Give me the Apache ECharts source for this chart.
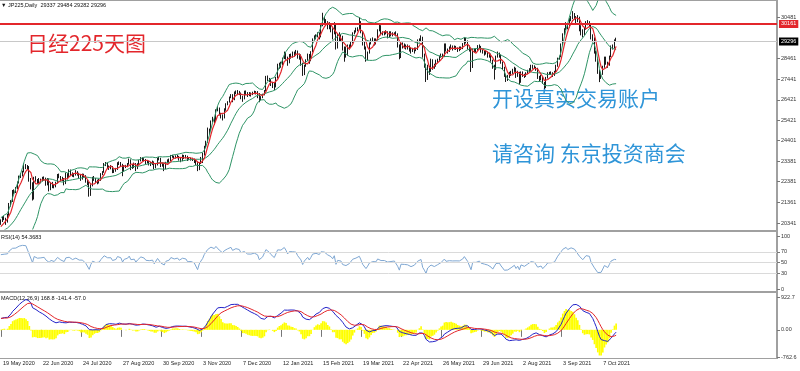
<!DOCTYPE html>
<html><head><meta charset="utf-8">
<script src="https://cdn.jsdelivr.net/npm/echarts@6/dist/echarts.min.js"></script>
<style>html,body{margin:0;padding:0;background:#fff}#c{width:800px;height:371px}</style>
</head><body><div id="c"></div>
<script>
// ---- data (JP225 daily, 19 May 2020 .. 20 Oct 2021, weekday bars) ----
const warmupCloses = [18065,17818,17820,18576,18950,19353,19345,19400,19043,19638,19550,19290,19897,
19669,19280,19137,19429,19262,19783,19771,19800,20193,19619,19500,19600,19700,19674,20179,
20390,20366,20267,19914,20037,20133];
const opens = [20300,20433,20595,20552,
20388,20741,21271,21419,21916, 21877,22062,22325,22613,22695, 22863,23178,23091,23124,22473,
22305,21530,22582,22455,22355, 22479,22437,22549,22534,22260, 22512,21995,22288,22122,22146,
22307,22714,22614,22438,22529, 22291,22785,22587,22945,22770, 22696,22717,22884,22751,22700,
22520,22715,22657,22397,22339, 21710,22195,22573,22514,22418, 22329,22460,22750,22843,23249,
23289,23096,23051,23110,22880, 22920,22985,23296,23290,23208, 22882,23139,23138,23247,23465,
23205,23089,23274,23032,23235, 23406,23559,23454,23475,23319, 23360,23300,23250,23346,23087,
23204,23511,23539,23185,23200, 23029,23312,23433,23422,23647, 23619,23558,23601,23626,23507,
23410,23671,23567,23639,23474, 23516,23494,23485,23418,23331, 22977,23295,23500,23695,24105,
24325,24839,24905,25349,25520, 25385,25906,26014,25728,25634, 25527,25900,26165,26296,26537,
26644,26433,26787,26800,26809, 26751,26547,26467,26817,26756, 26652,26732,26687,26757,26806,
26763,26714,26436,26524, 26668,26854,27568,27444,
27400,27258,27158,27056,27490, 28139,28100,28164,28456,28698, 28519,28242,28633,28523,28756,
28631,28822,28546,28635,28197, 27663,28091,28362,28646,28341, 28779,29388,29505,29562,29700,
29520,30084,30467,30292,30236, 30017,30156,29900,29671,30168, 28966,29663,29408,29559,28930,
28864,28743,29027,29036,29211, 29717,29766,29921,29914,30216, 29792,29174,28995,28405,28729,
29176,29384,29432,29178,29388, 29854,30089,29696,29730,29708, 29768,29538,29751,29620,29642,
29683,29685,29100,28508,29188, 29020,29126,28991,29053,28900, 28812,28900,28950,28900,29331,
29357,29518,28608,28147,27448, 28084,27824,28406,28044,28098, 28317,28364,28553,28642,28549,
29149,28860,28814,28946,29058, 28941,29019,28963,28860,28958, 28948,29161,29441,29291,29018,
28964,28010,28884,28874,28875, 29066,29048,28812,28791,28707, 28783,28598,28643,28366,28118,
27940,28569,28718,28608,28279, 28003,27652,27388,27548,27700, 27750,27833,27970,27581,27782,
27283,27781,27641,27584,27728, 27820,27900,28070,28070,28015, 27977,27523,27424,27585,27281,
27013,27494,27732,27724,27742, 27641,27789,28089,28451,28543, 29128,29659,29916,30181,30008,
30381,30447,30670,30511,30323, 30500,30000,29839,29639,29900, 30248,30240,30183,29544,29452,
28771,28444,27822,27528,27678, 28048,28498,28230,28140,28550, 29068,29025,29337];
const highs = [20520,20650,20680,20600,
20790,21330,21470,21970,22000, 22120,22390,22680,22800,22920, 23280,23250,23200,23150,22560,
22350,22620,22650,22510,22560, 22530,22620,22640,22580,22560, 22540,22350,22370,22250,22380,
22760,22780,22660,22620,22560, 22820,22800,22990,22980,22840, 22800,22950,22900,22820,22740,
22780,22770,22700,22460,22380, 22250,22620,22660,22560,22480, 22520,22800,22900,23300,23350,
23320,23180,23200,23150,22990, 23060,23340,23380,23350,23260, 23200,23210,23300,23520,23480,
23250,23320,23300,23290,23450, 23590,23580,23540,23500,23420, 23400,23360,23420,23380,23260,
23560,23600,23560,23320,23280, 23360,23480,23520,23700,23700, 23660,23680,23700,23650,23560,
23720,23700,23700,23660,23580, 23570,23560,23520,23450,23380, 23340,23600,23800,24150,24400,
25050,25000,25400,25580,25550, 25950,26100,26040,25780,25700, 26000,26250,26350,26580,26700,
26700,26830,26880,26900,26860, 26780,26620,26870,26880,26800, 26800,26780,26820,26870,26850,
26850,26750,26600,26720, 26900,27600,27620,27500,
27450,27300,27250,27550,28200, 28250,28300,28500,28800,28750, 28550,28680,28700,28800,28800,
28880,28850,28700,28660,28250, 28150,28420,28700,28680,28820, 29450,29600,29650,29750,29750,
30150,30714,30500,30400,30300, 30250,30200,29950,30250,30200, 29700,29750,29650,29580,29050,
29050,29150,29150,29300,29750, 29850,29980,30000,30485,30300, 29800,29300,29050,28800,29250,
29450,29500,29450,29450,29900, 30200,30100,29800,29800,29850, 29800,29800,29800,29750,29750,
29800,29700,29150,29250,29250, 29200,29150,29150,29100,29000, 28980,29000,29000,29400,29450,
29600,29530,28700,28200,28150, 28100,28450,28420,28200,28400, 28450,28600,28700,28700,29200,
29200,28950,29050,29150,29100, 29100,29080,29000,29050,29050, 29220,29500,29480,29350,29100,
28980,28950,28950,28950,29120, 29150,29080,28900,28850,28850, 28800,28750,28700,28400,28150,
28600,28800,28750,28650,28300, 28050,27700,27650,27800,27850, 27950,28050,28000,27850,27800,
27820,27820,27700,27780,27900, 27980,28150,28150,28120,28050, 28000,27600,27650,27600,27300,
27550,27780,27800,27820,27780, 27850,28150,28500,28600,29200, 29700,29950,30250,30200,30450,
30550,30795,30700,30550,30600, 30520,30100,29900,30000,30300, 30350,30300,30200,29650,29500,
28850,28500,27900,27800,28100, 28550,28550,28300,28600,29100, 29150,29400,29484];
const lows = [20250,20390,20480,20250,
20360,20700,21150,21380,21760, 21820,22010,22290,22560,22640, 22840,23000,22990,22380,22000,
21450,21500,22380,22260,22300, 22300,22390,22440,22180,22200, 21900,21960,22060,22050,22100,
22290,22550,22390,22400,22200, 22260,22490,22560,22700,22620, 22600,22680,22680,22550,22420,
22480,22580,22330,22200,21640, 21680,22150,22420,22330,22250, 22290,22420,22700,22820,23150,
23030,22960,22990,22800,22810, 22870,22960,23200,23140,22650, 22860,23050,23100,23220,22950,
23010,23050,22900,23000,23200, 23380,23400,23390,23250,23280, 23180,23150,23200,23000,23040,
23180,23430,23100,23120,22900, 23000,23280,23300,23400,23560, 23500,23520,23540,23420,23340,
23390,23500,23530,23400,23440, 23420,23400,23300,23200,22900, 22950,23250,23300,23670,24050,
24300,24700,24880,25300,25180, 25360,25850,25650,25500,25400, 25500,25880,26150,26280,26500,
26300,26400,26700,26700,26650, 26450,26320,26440,26650,26560, 26600,26580,26650,26700,26680,
26500,26300,26400,26500, 26640,26830,27350,27300,
27100,27000,26900,27030,27470, 27950,28000,28120,28430,28400, 28100,28220,28450,28500,28550,
28600,28450,28400,28100,27600, 27640,28050,28340,28200,28320, 28760,29350,29400,29500,29400,
29500,30050,30200,30100,29900, 29900,29750,29400,29650,28900, 28950,29300,29300,28850,28300,
28500,28600,28900,29000,29200, 29650,29740,29800,29900,29700, 29100,28900,28300,28380,28700,
29150,29300,29100,29150,29370, 29800,29600,29600,29600,29650, 29450,29500,29550,29550,29600,
29550,29000,28420,28480,28950, 28950,28900,28900,28800,28700, 28780,28700,28820,28880,29250,
29300,28500,28000,27300,27400, 27650,27800,27900,27950,28050, 28250,28330,28500,28450,28530,
28800,28700,28780,28900,28850, 28900,28880,28780,28820,28880, 28920,29130,29200,28900,28800,
27796,27990,28750,28780,28850, 28950,28750,28700,28600,28650, 28500,28500,28300,27950,27419,
27900,28500,28500,28200,27900, 27550,27300,27350,27500,27600, 27700,27800,27500,27550,27200,
27260,27550,27500,27550,27680, 27780,27850,27950,27950,27850, 27450,27300,27380,27200,26954,
27000,27470,27650,27650,27550, 27600,27770,28050,28400,28520, 29100,29600,29850,29900,29980,
30300,30400,30400,30200,30250, 29800,29600,29500,29600,29880, 30100,30000,29400,29300,28700,
28300,27700,27293,27450,27650, 28000,28150,28000,28100,28530, 28900,28950,29282];
const closes = [20433,20595,20552,20388,
20741,21271,21419,21916,21877, 22062,22325,22613,22695,22863, 23178,23091,23124,22473,22305,
21530,22582,22455,22355,22479, 22437,22549,22534,22260,22512, 21995,22288,22122,22146,22307,
22714,22614,22438,22529,22291, 22785,22587,22945,22770,22696, 22717,22884,22751,22700,22520,
22715,22657,22397,22339,21710, 22195,22573,22514,22418,22329, 22460,22750,22843,23249,23289,
23096,23051,23110,22880,22920, 22985,23296,23290,23208,22882, 23139,23138,23247,23465,23205,
23089,23274,23032,23235,23406, 23559,23454,23475,23319,23360, 23300,23250,23346,23087,23204,
23511,23539,23185,23200,23029, 23312,23433,23422,23647,23619, 23558,23601,23626,23507,23410,
23671,23567,23639,23474,23516, 23494,23485,23418,23331,22977, 23295,23500,23695,24105,24325,
24839,24905,25349,25520,25385, 25906,26014,25728,25634,25527, 25900,26165,26296,26537,26644,
26433,26787,26800,26809,26751, 26547,26467,26817,26756,26652, 26732,26687,26757,26806,26763,
26714,26436,26524,26668, 26854,27568,27444,27400,
27258,27158,27056,27490,28139, 28100,28164,28456,28698,28519, 28242,28633,28523,28756,28631,
28822,28546,28635,28197,27663, 28091,28362,28646,28341,28779, 29388,29505,29562,29700,29520,
30084,30467,30292,30236,30017, 30156,29900,29671,30168,28966, 29663,29408,29559,28930,28864,
28743,29027,29036,29211,29717, 29766,29921,29914,30216,29792, 29174,28995,28405,28729,29176,
29384,29432,29178,29388,29854, 30089,29696,29730,29708,29768, 29538,29751,29620,29642,29683,
29685,29100,28508,29188,29020, 29126,28991,29053,28900,28812, 28900,28950,28900,29331,29357,
29518,28608,28147,27448,28084, 27824,28406,28044,28098,28317, 28364,28553,28642,28549,29149,
28860,28814,28946,29058,28941, 29019,28963,28860,28958,28948, 29161,29441,29291,29018,28964,
28010,28884,28874,28875,29066, 29048,28812,28791,28707,28783, 28598,28643,28366,28118,27940,
28569,28718,28608,28279,28003, 27652,27388,27548,27700,27750, 27833,27970,27581,27782,27283,
27781,27641,27584,27728,27820, 27900,28070,28070,28015,27977, 27523,27424,27585,27281,27013,
27494,27732,27724,27742,27641, 27789,28089,28451,28543,29128, 29659,29916,30181,30008,30381,
30447,30670,30511,30323,30500, 30000,29839,29639,29900,30248, 30240,30183,29544,29452,28771,
28444,27822,27528,27678,28048, 28498,28230,28140,28550,29068, 29025,29337,29296];
const dateLabels = ['19 May 2020','22 Jun 2020','24 Jul 2020','27 Aug 2020','30 Sep 2020','3 Nov 2020',
'7 Dec 2020','12 Jan 2021','15 Feb 2021','19 Mar 2021','22 Apr 2021','26 May 2021','29 Jun 2021',
'2 Aug 2021','3 Sep 2021','7 Oct 2021'];
const priceTicks = [30481,28461,27441,26421,25421,24401,23381,22381,21361,20341];
const rsiTicks = [0,30,50,70,100];
const rsiLevels = [70,50,30];
const macdTicks = [-762.6,0,922.7];
const resistance = 30161;
const lastPrice = 29296;
const titleText = '\u25BC JP225,Daily  29337 29484 29282 29296';
const rsiText = 'RSI(14) 54.3683';
const macdText = 'MACD(12,26,9) 168.8 -141.4 -57.0';

// ---- indicators computed from the price data ----
const all = warmupCloses.concat(closes);
const W = warmupCloses.length;
const N = all.length;
const ma5=[], bbU=[], bbM=[], bbL=[];
for (let i=0;i<N;i++){
  if(i>=4){let s=0;for(let k=i-4;k<=i;k++)s+=all[k];ma5[i]=s/5;}
  if(i>=19){let s=0;for(let k=i-19;k<=i;k++)s+=all[k];const m=s/20;let v=0;for(let k=i-19;k<=i;k++)v+=(all[k]-m)*(all[k]-m);const sd=Math.sqrt(v/20);bbM[i]=m;bbU[i]=m+2*sd;bbL[i]=m-2*sd;}
}
const rsi=[];let ag=0,al=0;
for(let i=1;i<N;i++){const ch=all[i]-all[i-1];const g=Math.max(ch,0),l=Math.max(-ch,0);
  if(i<=14){ag+=g;al+=l;if(i===14){ag/=14;al/=14;rsi[i]=al===0?100:100-100/(1+ag/al);}}
  else{ag=(ag*13+g)/14;al=(al*13+l)/14;rsi[i]=al===0?100:100-100/(1+ag/al);}}
const e12=[],e26=[],dif=[],dea=[],hist=[];
for(let i=0;i<N;i++){
  e12[i]=i?e12[i-1]+2/13*(all[i]-e12[i-1]):all[i];
  e26[i]=i?e26[i-1]+2/27*(all[i]-e26[i-1]):all[i];
  dif[i]=e12[i]-e26[i];
  dea[i]=i?dea[i-1]+0.2*(dif[i]-dea[i-1]):dif[i];
  hist[i]=2*(dif[i]-dea[i]);
}
const cut=a=>a.slice(W).map(v=>v===undefined?null:+v.toFixed(2));

const NC=466;
const cats=[];for(let i=0;i<NC;i++)cats.push(String(i));
const candle=closes.map((c,i)=>[opens[i],c,lows[i],highs[i]]);

const small='Liberation Sans';
const chart=echarts.init(document.getElementById('c'),null,{renderer:'canvas'});
const xBase=(gi,show)=>({gridIndex:gi,type:'category',data:cats,boundaryGap:true,
  axisLine:{show:false},splitLine:{show:false},
  axisTick:show?{show:true,alignWithLabel:true,length:7,interval:(i)=>i%24===0&&i<=360,lineStyle:{color:'#777'}}:{show:false},
  axisLabel:show?{show:true,interval:(i)=>i%24===0&&i<=360,formatter:(v,i)=>dateLabels[i/24]||'',
    align:'left',margin:3,padding:[0,0,0,2],fontSize:5.5,color:'#222',fontFamily:small}:{show:false}});
const yLab={fontSize:5.5,color:'#333',fontFamily:small,margin:4};
chart.setOption({
  animation:false,backgroundColor:'#fff',
  grid:[{left:0,right:23,top:1,height:228},{left:0,right:23,top:236,height:53},{left:0,right:23,top:297,height:60}],
  xAxis:[xBase(0,false),xBase(1,false),xBase(2,true)],
  yAxis:[
    {gridIndex:0,type:'value',position:'right',min:20045,max:31295,axisLine:{show:false},splitLine:{show:false},
     axisTick:{show:true,customValues:priceTicks,length:3,lineStyle:{color:'#777'}},
     axisLabel:Object.assign({customValues:priceTicks,formatter:v=>String(Math.round(v))},yLab)},
    {gridIndex:1,type:'value',position:'right',min:0,max:100,axisLine:{show:false},splitLine:{show:false},
     axisTick:{show:true,customValues:rsiTicks,length:3,lineStyle:{color:'#777'}},
     axisLabel:Object.assign({customValues:rsiTicks,formatter:v=>String(v)},yLab)},
    {gridIndex:2,type:'value',position:'right',min:-762.6,max:922.7,axisLine:{show:false},splitLine:{show:false},
     axisTick:{show:true,customValues:macdTicks,length:3,lineStyle:{color:'#777'}},
     axisLabel:Object.assign({customValues:macdTicks,formatter:v=>v===0?'0.00':v.toFixed(1)},yLab)}
  ],
  series:[
    {type:'candlestick',xAxisIndex:0,yAxisIndex:0,data:candle,barWidth:1,silent:true,
     itemStyle:{color:'#1a1a1a',color0:'#1a1a1a',borderColor:'#1a1a1a',borderColor0:'#1a1a1a',borderWidth:1},
     markLine:{symbol:'none',silent:true,animation:false,data:[
       {yAxis:lastPrice,lineStyle:{color:'#c8c8c8',width:1,type:'solid'},
        label:{show:true,position:'end',distance:2,formatter:String(lastPrice),backgroundColor:'#000',color:'#fff',fontSize:5.5,padding:[1,2],fontFamily:small}},
       {yAxis:resistance,lineStyle:{color:'#e3262b',width:2,type:'solid'},
        label:{show:true,position:'end',distance:2,formatter:String(resistance),backgroundColor:'#e3262b',color:'#fff',fontSize:5.5,padding:[1,2],fontFamily:small}}
     ]}},
    {type:'line',xAxisIndex:0,yAxisIndex:0,data:cut(bbU),symbol:'none',silent:true,lineStyle:{color:'#2f9466',width:1}},
    {type:'line',xAxisIndex:0,yAxisIndex:0,data:cut(bbM),symbol:'none',silent:true,lineStyle:{color:'#2f9466',width:1}},
    {type:'line',xAxisIndex:0,yAxisIndex:0,data:cut(bbL),symbol:'none',silent:true,lineStyle:{color:'#2f9466',width:1}},
    {type:'line',xAxisIndex:0,yAxisIndex:0,data:cut(ma5),symbol:'none',silent:true,lineStyle:{color:'#e3262b',width:1.2}},
    {type:'line',xAxisIndex:1,yAxisIndex:1,data:cut(rsi),symbol:'none',silent:true,lineStyle:{color:'#7fa7d2',width:1},
     markLine:{symbol:'none',silent:true,animation:false,label:{show:false},lineStyle:{color:'#dadada',width:1,type:'solid'},
       data:rsiLevels.map(v=>({yAxis:v}))}},
    {type:'bar',xAxisIndex:2,yAxisIndex:2,data:cut(hist),barWidth:'100%',barCategoryGap:'0%',silent:true,itemStyle:{color:'#ffff00'}},
    {type:'line',xAxisIndex:2,yAxisIndex:2,data:cut(dif),symbol:'none',silent:true,lineStyle:{color:'#2424c8',width:1}},
    {type:'line',xAxisIndex:2,yAxisIndex:2,data:cut(dea),symbol:'none',silent:true,lineStyle:{color:'#e3262b',width:1}}
  ],
  graphic:[
    {type:'rect',shape:{x:0,y:0,width:777,height:1},style:{fill:'#a0a0a0'},silent:true},
    {type:'rect',shape:{x:0,y:230,width:777,height:2},style:{fill:'#a0a0a0'},silent:true},
    {type:'rect',shape:{x:0,y:291,width:777,height:2},style:{fill:'#a0a0a0'},silent:true},
    {type:'rect',shape:{x:0,y:358,width:777,height:1},style:{fill:'#a0a0a0'},silent:true},
    {type:'rect',shape:{x:776,y:0,width:2,height:359},style:{fill:'#a0a0a0'},silent:true},
    {type:'text',x:1,y:2,style:{text:titleText,fontSize:5.5,fill:'#111',fontFamily:small}},
    {type:'text',x:1,y:234,style:{text:rsiText,fontSize:5.5,fill:'#111',fontFamily:small}},
    {type:'text',x:1,y:295,style:{text:macdText,fontSize:5.5,fill:'#111',fontFamily:small}},
    {type:'text',x:27,y:33,style:{text:'日经225天图',fontSize:21,fill:'#e3262b',fontFamily:'Noto Sans CJK SC'}},
    {type:'text',x:492,y:88,style:{text:'开设真实交易账户',fontSize:21,fill:'#2f95d8',fontFamily:'Noto Sans CJK SC'}},
    {type:'text',x:492,y:143,style:{text:'请咨询 东京投资商会',fontSize:21,fill:'#2f95d8',fontFamily:'Noto Sans CJK SC'}}
  ]
});
</script></body></html>
